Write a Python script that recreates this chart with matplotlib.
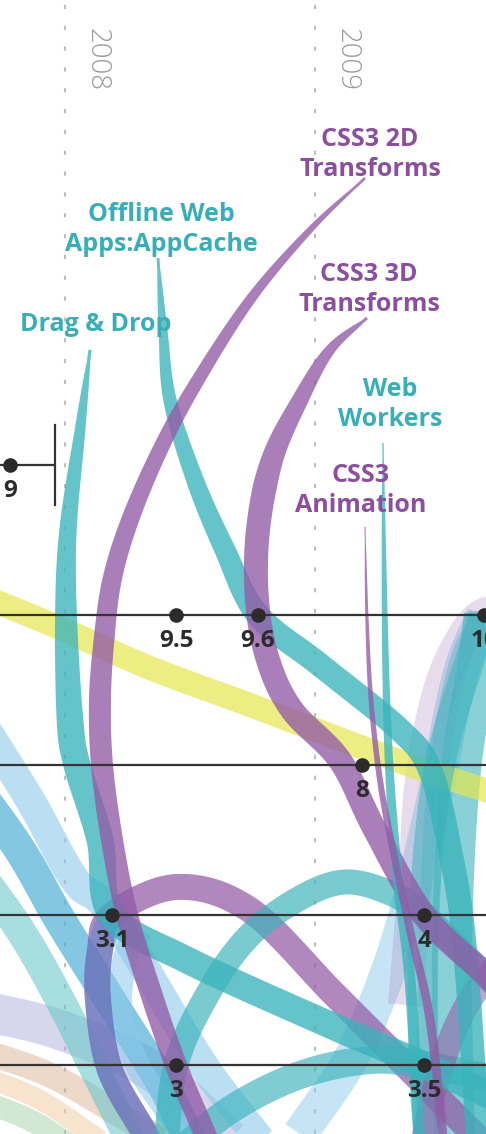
import numpy as np
import matplotlib.pyplot as plt
from matplotlib.patches import Polygon

plt.rcParams['font.family'] = ['Open Sans', 'DejaVu Sans']

# browser rows and their releases
browsers = ["Netscape", "Opera", "Internet Explorer", "Safari", "Firefox"]
release_browser = ["Netscape", "Opera", "Opera", "Opera", "Internet Explorer",
                   "Safari", "Safari", "Firefox", "Firefox"]
release_version = ["9", "9.5", "9.6", "10", "8", "3.1", "4", "3", "3.5"]
release_date = [2007.78, 2008.444, 2008.772, 2009.676, 2009.188,
                2008.188, 2009.436, 2008.444, 2009.436]
netscape_end = 2007.96

years = [2008, 2009]

# web features, where their ribbon starts (date, row)
features = ["Drag & Drop", "Offline Web\nApps:AppCache", "CSS3 2D\nTransforms",
            "CSS3 3D\nTransforms", "Web\nWorkers", "CSS3\nAnimation"]
feature_group = ["html5", "html5", "css3", "css3", "html5", "css3"]
feature_date = [2008.10, 2008.372, 2009.20, 2009.208, 2009.272, 2009.20]
feature_row = [-0.767, -1.38, -1.913, -0.98, -0.147, 0.413]

# path of each feature ribbon after its start: free points (date, row)
# or the browser release it passes through
feature_paths = [
    [(2008.06, -0.233), (2008.012, 0.433), (2008.004, 1.0), (2008.02, 1.7),
     (2008.048, 2.0), (2008.14, 2.5), ("Safari", "3.1"), (2008.488, 3.3),
     (2009.06, 3.733), ("Firefox", "3.5"), (2009.82, 4.3)],
    [(2008.392, -0.9), (2008.42, -0.433), (2008.52, 0.1), (2008.64, 0.567),
     ("Opera", "9.6"), (2009.02, 1.333), (2009.34, 1.767), (2009.46, 2.033),
     (2009.54, 2.567), (2009.60, 3.233), (2009.66, 4.7)],
    [(2008.98, -1.567), (2008.74, -1.1), (2008.52, -0.533), (2008.38, -0.1),
     (2008.26, 0.367), (2008.188, 0.767), (2008.156, 1.167), (2008.14, 1.567),
     (2008.148, 2.0), (2008.188, 2.5), (2008.248, 3.0), (2008.34, 3.5),
     ("Firefox", "3"), (2008.56, 4.46), (2008.62, 4.7)],
    [(2009.06, -0.767), (2008.94, -0.433), (2008.828, -0.033), (2008.772, 0.433),
     (2008.768, 0.9), (2008.812, 1.3), (2008.908, 1.633), (2009.10, 1.97),
     (2009.24, 2.433), ("Safari", "4"), (2009.684, 3.4), (2009.82, 3.633)],
    [(2009.276, 0.633), (2009.284, 1.433), (2009.30, 2.1), (2009.332, 2.767),
     (2009.38, 3.433), (2009.42, 4.6)],
    [(2009.208, 1.033), (2009.224, 1.567), (2009.26, 2.1), (2009.312, 2.567),
     (2009.38, 3.1), (2009.46, 3.7), (2009.52, 4.6)],
]

# other (partly visible) support ribbons
other_paths = [
    [(2007.66, 4.233), (2007.86, 4.367), (2008.02, 4.533)],
    [(2007.66, 4.067), (2007.90, 4.233), (2008.14, 4.5)],
    [(2007.66, 3.9), (2007.94, 4.067), (2008.22, 4.333), (2008.38, 4.5)],
    [(2007.66, 3.633), (2007.98, 3.767), (2008.34, 4.033), (2008.66, 4.5)],
    [(2007.62, 2.633), (2007.82, 3.1), (2007.98, 3.567), (2008.14, 4.1), (2008.26, 4.5)],
    [(2007.66, 1.7), (2007.86, 2.233), (2008.04, 2.767), ("Safari", "3.1"),
     (2008.54, 3.967), (2008.78, 4.5)],
    [(2007.62, 2.1), (2007.82, 2.567), (2007.98, 3.033), (2008.18, 3.567),
     (2008.38, 4.1), (2008.50, 4.5)],
    [(2008.30, 3.1), (2008.24, 3.3), (2008.22, 3.633), (2008.28, 3.967),
     (2008.38, 4.233), (2008.50, 4.5)],
    [(2008.94, 4.46), (2009.14, 3.967), (2009.28, 3.433), (2009.38, 2.9),
     (2009.48, 2.2), (2009.58, 1.4), ("Opera", "10")],
    [(2009.36, 3.6), (2009.40, 2.767), (2009.428, 2.1), (2009.50, 1.5), (2009.60, 1.133),
     ("Opera", "10"), (2009.74, 1.0)],
    [(2009.56, 4.6), (2009.548, 3.233), (2009.58, 2.1), (2009.652, 1.3), ("Opera", "10")],
    [(2009.44, 4.6), (2009.46, 2.9), (2009.50, 1.967), (2009.58, 1.3), ("Opera", "10")],
    [(2007.66, 0.867), (2007.98, 1.087), (2008.34, 1.353), (2008.74, 1.6),
     (2009.14, 1.853), (2009.46, 2.047), (2009.78, 2.22)],
    [(2008.34, 4.567), (2008.32, 4.46), (2008.18, 4.033), (2008.132, 3.567),
     (2008.14, 3.233), ("Safari", "3.1"), (2008.448, 2.813), (2008.74, 2.967),
     (2009.072, 3.52), (2009.34, 3.967), (2009.608, 4.413), (2009.74, 4.63)],
    [(2008.34, 4.567), (2008.32, 4.46), (2008.18, 4.033), (2008.132, 3.567),
     (2008.14, 3.233), ("Safari", "3.1")],
    [(2008.40, 4.63), ("Firefox", "3"), (2008.58, 3.5), (2008.74, 3.133),
     (2008.94, 2.887), (2009.12, 2.78), (2009.30, 2.853), ("Safari", "4"),
     (2009.62, 3.3), (2009.80, 3.6)],
    [(2008.42, 4.63), (2008.66, 4.3), (2008.94, 4.067), (2009.22, 3.967),
     ("Firefox", "3.5"), (2009.74, 4.1)],
    [("Opera", "10"), (2009.50, 2.0), ("Safari", "4"), ("Firefox", "3.5"), (2009.46, 4.6)],
    [(2009.82, 3.167), (2009.62, 3.567), (2009.50, 4.033), (2009.42, 4.6)],
]

# ---- styles ----
teal_txt, purple_txt = '#37AEB8', '#8C4E9E'
group_color = {"html5": '#3AB3BB', "css3": '#925AA6'}
feature_width = [27, 24, 22, 24, 11, 9]
feature_taper = [380, 380, 600, 200, 500, 500]
other_style = [  # colour, alpha, width
    ('#A9D3A9', 0.5, 22), ('#F2C9A0', 0.5, 20), ('#D9A98A', 0.45, 25),
    ('#AEB0DA', 0.5, 40), ('#6CC8CA', 0.6, 30), ('#8DCAEB', 0.6, 30),
    ('#4FB0D6', 0.7, 32), ('#8DCAEB', 0.55, 25), ('#8DCAEB', 0.5, 35),
    ('#B08CC0', 0.3, 34), ('#3AB3BB', 0.6, 40), ('#6FB5C9', 0.5, 20),
    ('#E4E74F', 0.7, 24), ('#925AA6', 0.72, 26), ('#4C8CD0', 0.45, 26),
    ('#3AB3BB', 0.68, 25), ('#3AB3BB', 0.65, 28), ('#3AB3BB', 0.5, 30),
    ('#925AA6', 0.55, 25),
]
label_nudge = [(4.3, 9.4), (2.2, 0.7), (3.6, -2.9), (1.4, 0.7), (5, 7.9), (-2.9, 6.5)]

fig = plt.figure(figsize=(4.86, 11.34), dpi=100)
ax = fig.add_axes([0, 0, 1, 1])
ax.set_xlim(2007.74, 2009.684)
ax.set_ylim(4.46, -3.1)
ax.axis('off')


def row_of(b):
    return browsers.index(b)


def resolve(pt):
    if isinstance(pt[0], str):
        for b, v, d in zip(release_browser, release_version, release_date):
            if b == pt[0] and v == pt[1]:
                return (d, row_of(b))
    return pt


def ribbon(pts, width, color, alpha, taper=0, z=2):
    P = ax.transData.transform(np.array([resolve(p) for p in pts], dtype=float))
    P = np.vstack([2 * P[0] - P[1], P, 2 * P[-1] - P[-2]])
    parts = []
    t = np.linspace(0, 1, 30, endpoint=False)[:, None]
    for i in range(1, len(P) - 2):
        p0, p1, p2, p3 = P[i - 1], P[i], P[i + 1], P[i + 2]
        parts.append(0.5 * (2 * p1 + (p2 - p0) * t + (2 * p0 - 5 * p1 + 4 * p2 - p3) * t ** 2
                            + (3 * p1 - p0 - 3 * p2 + p3) * t ** 3))
    parts.append(P[-2][None])
    C = np.vstack(parts)
    d = np.gradient(C, axis=0)
    n = np.column_stack([-d[:, 1], d[:, 0]])
    n /= np.linalg.norm(n, axis=1)[:, None]
    s = np.concatenate([[0], np.cumsum(np.linalg.norm(np.diff(C, axis=0), axis=1))])
    w = np.full(len(C), float(width))
    if taper:
        w = width * np.clip(s / taper, 0.03, 1) ** 0.6
    poly = np.vstack([C + n * w[:, None] / 2, (C - n * w[:, None] / 2)[::-1]])
    ax.add_patch(Polygon(ax.transData.inverted().transform(poly), closed=True,
                         fc=color, ec='none', alpha=alpha, zorder=z))


# year guides
for y in years:
    ax.axvline(y, color='#bdbdbd', lw=1.5, ls=(0, (2, 8)), zorder=0)
    ax.annotate(str(y), xy=(y, 1), xycoords=('data', 'axes fraction'),
                xytext=(23, -20), textcoords='offset points', rotation=270,
                ha='center', va='top', fontsize=20, fontweight='light', color='#9a9a9a')

for pts, (c, a, w) in zip(other_paths, other_style):
    ribbon(pts, w, c, a)

for i, f in enumerate(features):
    pts = [(feature_date[i], feature_row[i])] + feature_paths[i]
    ribbon(pts, feature_width[i], group_color[feature_group[i]], 0.78,
           taper=feature_taper[i], z=3)
    ax.annotate(f, xy=(feature_date[i], feature_row[i]), xytext=label_nudge[i],
                textcoords='offset points', ha='center', va='bottom',
                multialignment='center', fontsize=18, fontweight='bold',
                linespacing=1.25,
                color=teal_txt if feature_group[i] == "html5" else purple_txt, zorder=8)

# browser timelines
x0, x1 = ax.get_xlim()
for r, b in enumerate(browsers):
    end = netscape_end if b == "Netscape" else x1
    ax.plot([x0, end], [r, r], color='#333333', lw=1.6, zorder=5, solid_capstyle='butt')
    if b == "Netscape":
        ax.plot([end, end], [r - 0.267, r + 0.267], color='#333333', lw=1.6, zorder=5)

for b, v, d in zip(release_browser, release_version, release_date):
    r = row_of(b)
    ax.plot(d, r, 'o', ms=9.5, color='#2b2b2b', zorder=6)
    ax.annotate(v, xy=(d, r), xytext=(0, -19), textcoords='offset points',
                ha='center', va='center', fontsize=17.5, fontweight='bold',
                color='#2b2b2b', zorder=7)

fig.savefig('out.png', dpi=100)
